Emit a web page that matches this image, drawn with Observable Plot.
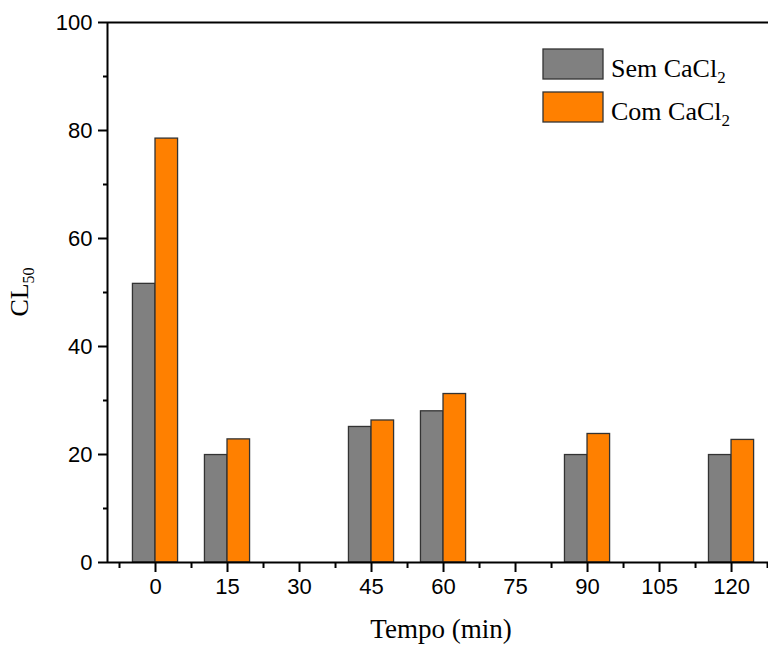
<!DOCTYPE html>
<html>
<head>
<meta charset="utf-8">
<script src="https://cdn.jsdelivr.net/npm/d3@7"></script>
<script src="https://cdn.jsdelivr.net/npm/@observablehq/plot@0.6"></script>
<style>
  html, body { margin: 0; padding: 0; background: #fff; }
  #chart { position: relative; width: 768px; height: 646px; }
</style>
</head>
<body>
<div id="chart"></div>
<script>
const times = [0, 15, 45, 60, 90, 120];
const semCaCl2 = [51.6, 19.9, 25.1, 28.0, 19.9, 19.9];
const comCaCl2 = [78.5, 22.8, 26.3, 31.2, 23.8, 22.7];
const xTicks = [0, 15, 30, 45, 60, 75, 90, 105, 120];
const xMinorTicks = [-7.5, 7.5, 22.5, 37.5, 52.5, 67.5, 82.5, 97.5, 112.5, 127.5];
const yTicks = [0, 20, 40, 60, 80, 100];
const yMinorTicks = [10, 30, 50, 70, 90];
const seriesNames = ["Sem CaCl", "Com CaCl"];
const seriesColors = ["#808080", "#FF8000"];

const barW = 4.7;
const semRows = times.map((t, i) => ({t, v: semCaCl2[i]}));
const comRows = times.map((t, i) => ({t, v: comCaCl2[i]}));

const plot = Plot.plot({
  width: 768,
  height: 646,
  marginLeft: 107,
  marginRight: 0,
  marginTop: 22,
  marginBottom: 84,
  x: {domain: [-10, 127.7]},
  y: {domain: [0, 100]},
  style: {fontFamily: "'Liberation Sans', Arial, sans-serif", fontSize: "22px", color: "#000", background: "#fff", overflow: "visible"},
  marks: [
    Plot.rectY(semRows, {x1: d => d.t - barW, x2: d => d.t, y1: 0, y2: "v", fill: seriesColors[0], stroke: "#333", strokeWidth: 1.3}),
    Plot.rectY(comRows, {x1: d => d.t, x2: d => d.t + barW, y1: 0, y2: "v", fill: seriesColors[1], stroke: "#333", strokeWidth: 1.3}),
    Plot.axisX({ticks: xTicks, tickSize: 10, tickPadding: 6, tickFormat: d => String(d), label: null, strokeWidth: 2, fill: "#000"}),
    Plot.axisX({ticks: xMinorTicks, tickSize: 6, tickFormat: () => "", label: null, strokeWidth: 2}),
    Plot.axisY({ticks: yTicks, tickSize: 9, tickPadding: 6, tickFormat: d => String(d), label: null, strokeWidth: 2, fill: "#000"}),
    Plot.axisY({ticks: yMinorTicks, tickSize: 4, tickFormat: () => "", label: null, strokeWidth: 2}),
    Plot.ruleY([0], {stroke: "#000", strokeWidth: 2}),
    Plot.ruleY([100], {stroke: "#000", strokeWidth: 2}),
    Plot.ruleX([-10], {stroke: "#000", strokeWidth: 2})
  ]
});
document.getElementById("chart").appendChild(plot);

const svg = d3.select(plot);
const serif = "'Liberation Serif', 'Times New Roman', serif";

// x title
svg.append("text")
  .attr("x", 441).attr("y", 638)
  .attr("text-anchor", "middle")
  .style("font-family", serif).style("font-size", "27px").attr("fill", "#000")
  .text("Tempo (min)");

// y title with subscript
const yt = svg.append("text")
  .attr("transform", "translate(28,292) rotate(-90)")
  .attr("text-anchor", "middle")
  .style("font-family", serif).style("font-size", "26px").attr("fill", "#000");
yt.append("tspan").text("CL");
yt.append("tspan").attr("dy", 6).style("font-size", "16px").text("50");

// legend
const legendTops = [49, 92];
seriesNames.forEach((name, i) => {
  svg.append("rect")
    .attr("x", 543).attr("y", legendTops[i])
    .attr("width", 60).attr("height", 30)
    .attr("fill", seriesColors[i]).attr("stroke", "#333").attr("stroke-width", 1.3);
  const t = svg.append("text")
    .attr("x", 611).attr("y", legendTops[i] + 28)
    .attr("text-anchor", "start")
    .style("font-family", serif).style("font-size", "26px").attr("fill", "#000");
  t.append("tspan").text(name);
  t.append("tspan").attr("dy", 6).style("font-size", "17px").text("2");
});
</script>
</body>
</html>
